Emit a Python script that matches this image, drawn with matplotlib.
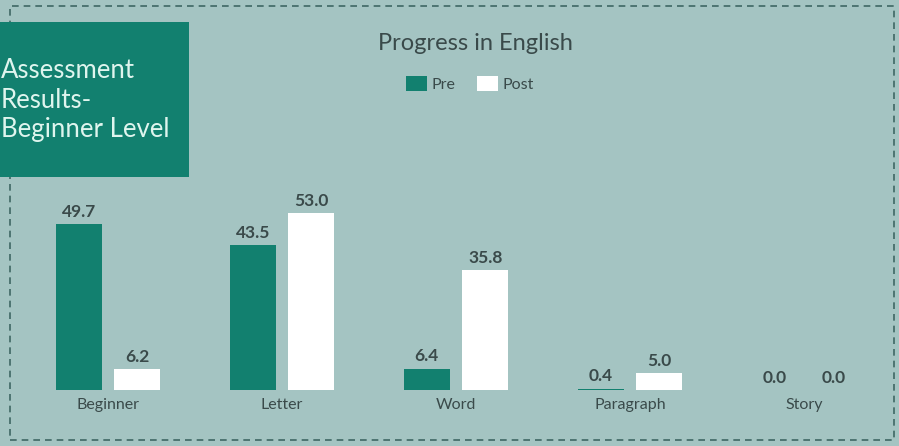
import numpy as np
import matplotlib
matplotlib.use("Agg")
import matplotlib.pyplot as plt
from matplotlib.patches import Rectangle

# ---------------------------- Chart Data ---------------------------- #
categories = ["Beginner", "Letter", "Word", "Paragraph", "Story"]
preValues = [49.7, 43.5, 6.4, 0.4, 0.0]
postValues = [6.2, 53.0, 35.8, 5.0, 0.0]
seriesNames = ["Pre", "Post"]

# ---------------------------- Styling ---------------------------- #
bgColor = "#a4c4c2"
tealColor = "#12806f"
textColor = "#3a4a4a"
plt.rcParams['font.family'] = ['Lato', 'DejaVu Sans']

figW, figH = 899, 446
figure = plt.figure(figsize=(figW / 100, figH / 100), dpi=100)
figure.patch.set_facecolor(bgColor)

# Axes placement in pixel units (from the top-left corner)
axLeft, axRight, axTop, axBottom = 20, 890, 190, 390
ax = figure.add_axes([axLeft / figW, 1 - axBottom / figH,
                      (axRight - axLeft) / figW, (axBottom - axTop) / figH])
ax.set_facecolor("none")

xPos = np.arange(len(categories))
barWidth = 0.265
offset = 0.168
ax.bar(xPos - offset, preValues, barWidth, color=tealColor, label=seriesNames[0])
ax.bar(xPos + offset, postValues, barWidth, color="white", label=seriesNames[1])

# Value labels
for i in range(len(categories)):
    for xv, val in [(xPos[i] - offset, preValues[i]), (xPos[i] + offset, postValues[i])]:
        ax.annotate(f"{val:.1f}", (xv, val), xytext=(0, 3), textcoords="offset points",
                    ha="center", va="bottom", fontsize=12.5, fontweight="bold", color=textColor)

# Scale: about 3.34 px per unit
pxPerUnit = 3.34
ax.set_ylim(0, (axBottom - axTop) / pxPerUnit)
ax.set_xlim((axLeft - 108) / 174, (axRight - 108) / 174)
ax.set_xticks(xPos)
ax.set_xticklabels(categories, fontsize=11.5, color=textColor)
ax.tick_params(axis="x", length=0, pad=6)
ax.set_yticks([])
for spine in ax.spines.values():
    spine.set_visible(False)

# Title and legend
figure.text(475 / figW, 1 - 43 / figH, "Progress in English", ha="center", va="center",
            fontsize=17, color=textColor)
legend = figure.legend(loc="center", bbox_to_anchor=(470 / figW, 1 - 84 / figH), ncol=2,
                       frameon=False, fontsize=11.5, handlelength=1.3, handleheight=1.1,
                       handletextpad=0.25, columnspacing=1.4, labelcolor=textColor)

# Dashed border
figure.patches.append(Rectangle((10 / figW, 1 - 440 / figH), 884 / figW, 434 / figH,
                                transform=figure.transFigure, fill=False,
                                edgecolor="#3e6764", linestyle=(0, (4, 3)), linewidth=1.2))

# Teal title box
figure.patches.append(Rectangle((0, 1 - 177 / figH), 189 / figW, 155 / figH,
                                transform=figure.transFigure, facecolor=tealColor,
                                edgecolor="none", zorder=3))
figure.text(1 / figW, 1 - 100 / figH, "Assessment\nResults-\nBeginner Level",
            ha="left", va="center", fontsize=18.5, color="#dff5ee", linespacing=1.2, zorder=4)

plt.savefig("out.png", dpi=100, facecolor=bgColor)
